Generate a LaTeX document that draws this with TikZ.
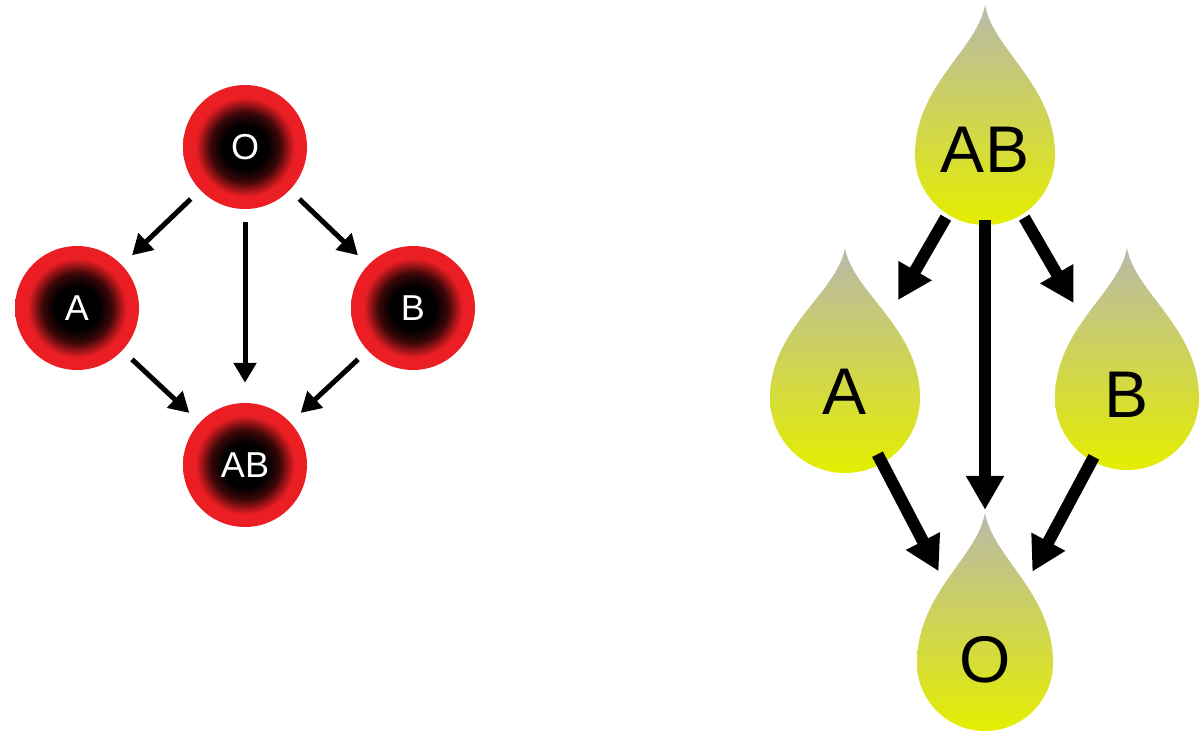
\documentclass[tikz,border=0pt]{standalone}
\usepackage{fontspec}
\setmainfont{Liberation Sans}
\usetikzlibrary{arrows.meta}
\definecolor{dtop}{RGB}{185,185,170}
\definecolor{dbot}{RGB}{228,238,0}
\definecolor{cred}{RGB}{235,30,35}
\pgfdeclareradialshading{cellshade}{\pgfpoint{0bp}{0bp}}{color(0bp)=(black); color(9bp)=(black); color(14bp)=(black!75!cred); color(20bp)=(cred); color(50bp)=(cred)}
\tikzset{
 cell/.style={circle,minimum size=124pt,inner sep=0,shading=cellshade,draw=none,text=white,font=\fontsize{36}{36}\selectfont},
 thin arr/.style={line width=5pt,-{Triangle[length=20pt,width=22pt]}},
 thick arr/.style={line width=12pt,-{Triangle[length=34pt,width=36pt]}},
 dropn/.style={circle,minimum size=140pt,inner sep=0,font=\fontsize{66}{66}\selectfont},
 dropfill/.style={top color=dtop,bottom color=dbot,draw=none}
}
\newcommand{\mydrop}[3]{% x y r
 \path[dropfill] (#1,#2-150) .. controls (#1+8,#2-105) and (#1+#3,#2-70) .. (#1+#3,#2)
   arc[start angle=0,end angle=180,radius=#3] .. controls (#1-#3,#2-70) and (#1-8,#2-105) .. (#1,#2-150) -- cycle;
}
\begin{document}
\begin{tikzpicture}[x=1pt,y=-1pt]
\useasboundingbox (0,0) rectangle (1203,744);
% left
\node[cell] (O) at (245,147) {O};
\node[cell] (A) at (77,308) {A};
\node[cell] (B) at (413,308) {B};
\node[cell] (AB) at (245,465) {AB};
\draw[thin arr,shorten <=13pt,shorten >=14pt] (O) -- (A);
\draw[thin arr,shorten <=13pt,shorten >=14pt] (O) -- (B);
\draw[thin arr,shorten <=13pt,shorten >=20pt] (O) -- (AB);
\draw[thin arr,shorten <=13pt,shorten >=14pt] (A) -- (AB);
\draw[thin arr,shorten <=13pt,shorten >=14pt] (B) -- (AB);
% right drops
\mydrop{985}{155}{70}
\mydrop{845}{398}{75}
\mydrop{1127}{398}{72}
\mydrop{985}{663}{68}
\node[dropn] (dAB) at (985,150) {AB};
\node[dropn] (dA) at (845,392) {A};
\node[dropn] (dB) at (1127,395) {B};
\node[dropn] (dO) at (985,660) {O};
\draw[thick arr,shorten <=8pt,shorten >=36pt] (dAB) -- (dA);
\draw[thick arr,shorten <=8pt,shorten >=36pt] (dAB) -- (dB);
\draw[thick arr,shorten <=0pt,shorten >=80pt] (dAB) -- (dO);
\draw[thick arr,shorten <=0pt,shorten >=30pt] (dA) -- (dO);
\draw[thick arr,shorten <=0pt,shorten >=30pt] (dB) -- (dO);
\end{tikzpicture}
\end{document}
